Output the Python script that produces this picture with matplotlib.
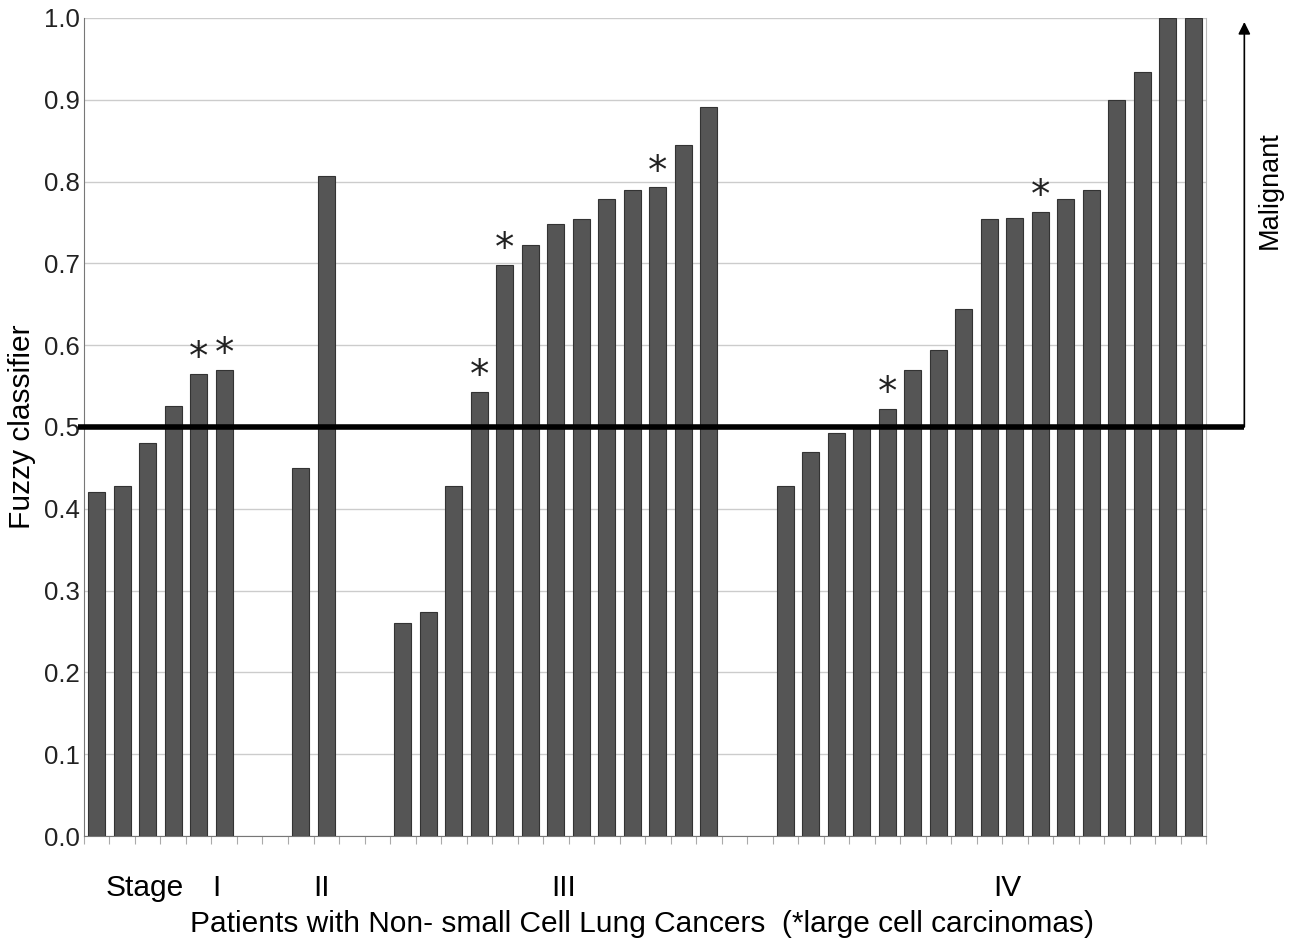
import matplotlib
matplotlib.use("Agg")
import matplotlib.pyplot as plt
import matplotlib.transforms as mtransforms

plt.rcParams['font.family'] = ['Liberation Sans', 'DejaVu Sans']

# ----------------- data -----------------
stages = ['I', 'II', 'III', 'IV']
stage1 = [0.42, 0.428, 0.48, 0.526, 0.565, 0.570]
stage2 = [0.45, 0.807]
stage3 = [0.26, 0.274, 0.428, 0.543, 0.698, 0.722, 0.748, 0.754, 0.779,
          0.790, 0.793, 0.845, 0.891]
stage4 = [0.428, 0.469, 0.493, 0.500, 0.522, 0.570, 0.594, 0.644, 0.754,
          0.755, 0.763, 0.779, 0.790, 0.900, 0.934, 1.0, 1.0]
# large cell carcinomas (marked with *), index inside each stage
star1 = [4, 5]
star2 = []
star3 = [3, 4, 10]
star4 = [4, 10]
threshold = 0.5
yticks = [0.0, 0.1, 0.2, 0.3, 0.4, 0.5, 0.6, 0.7, 0.8, 0.9, 1.0]

groups = [stage1, stage2, stage3, stage4]
stars = [star1, star2, star3, star4]
gap = 2  # empty slots between stages

fig = plt.figure(figsize=(12.92, 9.42), dpi=100)
ax = fig.add_axes([0.065, 0.1125, 0.8685, 0.8685])

start = 0
for vals, st in zip(groups, stars):
    xs = [start + i + 0.5 for i in range(len(vals))]
    ax.bar(xs, vals, width=0.66, color='#555555', edgecolor='#333333',
           linewidth=0.8, zorder=3)
    for i in st:
        ax.text(xs[i], vals[i] - 0.004, '*', ha='center', va='bottom',
                fontsize=28, family='DejaVu Sans', color='#222222')
    start += len(vals) + gap
nslots = start - gap

ax.set_xlim(0, nslots)
ax.set_ylim(0, 1.0)
ax.set_yticks(yticks)
ax.set_yticklabels(['%.1f' % v for v in yticks], fontsize=18.5, color='#222222')
ax.set_xticks(range(nslots + 1))
ax.set_xticklabels([])
ax.tick_params(axis='x', direction='out', length=6, color='#aaaaaa')
ax.tick_params(axis='y', length=0, pad=3)
ax.yaxis.grid(True, color='#cccccc', linewidth=1, zorder=0)
ax.set_axisbelow(True)
for side in ['left', 'bottom']:
    ax.spines[side].set_color('#777777')
ax.spines['right'].set_color('#bbbbbb')
ax.spines['top'].set_visible(False)

ax.set_ylabel('Fuzzy classifier', fontsize=21.5, labelpad=6)

# stage labels under the axis
trans = mtransforms.blended_transform_factory(ax.transData, ax.transAxes)
ax.text(2.4, -0.064, 'Stage', transform=trans, ha='center', va='center',
        fontsize=21.5)
label_x = [5.2, 9.3, 18.8, 36.2]
for lx, s in zip(label_x, stages):
    ax.text(lx, -0.064, s, transform=trans, ha='center', va='center',
            fontsize=21.5)
ax.text(0.497, -0.107, 'Patients with Non- small Cell Lung Cancers  (*large cell carcinomas)',
        transform=ax.transAxes, ha='center', va='center', fontsize=21.5)

# threshold line and malignant arrow
x_end = 45.5
ax.plot([-0.25, x_end], [threshold, threshold], color='black', linewidth=4,
        clip_on=False, zorder=5, solid_capstyle='butt')
ax.annotate('', xy=(x_end, 0.995), xytext=(x_end, threshold),
            arrowprops=dict(arrowstyle='-|>', color='black', lw=1.2,
                            mutation_scale=18, shrinkA=0, shrinkB=0),
            annotation_clip=False)
ax.text(x_end + 1.0, 0.79, 'Malignant', rotation=90, ha='center', va='center',
        fontsize=19.5)

fig.savefig('out.png', dpi=100)
